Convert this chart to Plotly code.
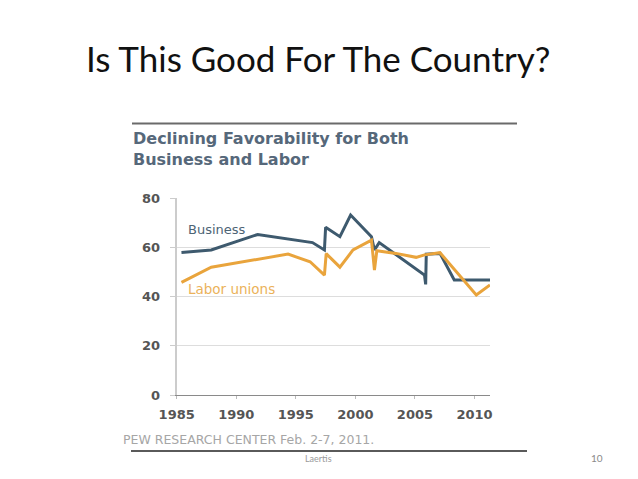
"""Slide: Is This Good For The Country? (Pew favorability chart)"""
import plotly.graph_objects as go

W, H = 638, 479
PAGE_PAD = 8  # the page body adds this much around the figure

# Data
business_years = [1985.4, 1987.9, 1991.8, 1996.4, 1997.4, 1997.5, 1998.7, 1999.6,
                  2001.35, 2001.6, 2002.0, 2005.8, 2005.9, 2005.95, 2007.1, 2008.3, 2011.3]
business_values = [58, 59, 65.3, 62, 59, 68.2, 64.4, 73.2,
                   64.4, 59, 62, 48.8, 45, 57.3, 57.6, 46.8, 46.8]

labor_years = [1985.4, 1987.9, 1994.35, 1996.2, 1997.4, 1997.55, 1998.7, 1999.8,
               2001.35, 2001.6, 2001.8, 2003.4, 2005.1, 2005.8, 2007.1, 2010.15, 2011.3]
labor_values = [45.8, 52, 57.3, 54.2, 48.8, 57.5, 52, 59,
                63, 50.8, 58.7, 57.6, 56, 57, 57.9, 40.7, 44.8]

x_ticks = [1985, 1990, 1995, 2000, 2005, 2010]
y_ticks = [0, 20, 40, 60, 80]

BUSINESS_COLOR = "#3e5a6e"
LABOR_COLOR = "#e9a43c"


def px_x(p):
    return (p - PAGE_PAD) / W


def px_y(p):
    return 1 - (p - PAGE_PAD) / H


fig = go.Figure()

fig.add_trace(go.Scatter(x=business_years, y=business_values, mode="lines",
                         line=dict(color=BUSINESS_COLOR, width=3), name="Business"))
fig.add_trace(go.Scatter(x=labor_years, y=labor_values, mode="lines",
                         line=dict(color=LABOR_COLOR, width=3), name="Labor unions"))

tick_font = dict(family="DejaVu Sans", size=13, color="#555555", weight="bold")

fig.update_xaxes(
    domain=[px_x(176.7), px_x(490)],
    range=[1985, 2011.3],
    tickvals=x_ticks,
    showgrid=False,
    zeroline=False,
    automargin=False,
    showline=True, linecolor="#8a8a8a", linewidth=1,
    ticks="outside", ticklen=3, tickcolor="#bbbbbb",
    ticklabelstandoff=4,
    tickfont=tick_font,
)
fig.update_yaxes(
    domain=[px_y(395.1), px_y(198.3)],
    range=[0, 80],
    tickvals=y_ticks,
    showgrid=True, gridcolor="#dddddd", gridwidth=1,
    zeroline=False,
    automargin=False,
    showline=True, linecolor="#cccccc", linewidth=2,
    ticks="outside", ticklen=5, tickcolor="#cccccc",
    ticklabelstandoff=7,
    tickfont=tick_font,
)

# in-chart series labels
fig.add_annotation(x=1985.8, y=67.3, text="Business", showarrow=False, xanchor="left",
                   font=dict(family="DejaVu Sans", size=13, color="#4d6475"))
fig.add_annotation(x=1985.8, y=43.1, text="Labor unions", showarrow=False, xanchor="left",
                   font=dict(family="DejaVu Sans", size=13.5, color="#ebb25a"))

# slide title
fig.add_annotation(xref="paper", yref="paper", x=px_x(318), y=px_y(58),
                   text="Is This Good For The Country?", showarrow=False,
                   xanchor="center", yanchor="middle",
                   font=dict(family="Lato", size=35, color="#111111"))

# chart header
fig.add_annotation(xref="paper", yref="paper", x=px_x(131), y=px_y(127),
                   text="Declining Favorability for Both<br>Business and Labor",
                   showarrow=False, xanchor="left", yanchor="top", align="left",
                   font=dict(family="DejaVu Sans", size=16, color="#56687a", weight="bold"))

# source note
fig.add_annotation(xref="paper", yref="paper", x=px_x(121), y=px_y(439),
                   text="PEW RESEARCH CENTER Feb. 2-7, 2011.", showarrow=False,
                   xanchor="left", yanchor="middle",
                   font=dict(family="DejaVu Sans", size=12.5, color="#a6a6a6"))

# slide footer
fig.add_annotation(xref="paper", yref="paper", x=px_x(318), y=px_y(458),
                   text="Laertis", showarrow=False, xanchor="center", yanchor="middle",
                   font=dict(family="Lato", size=9, color="#9a9a9a"))
fig.add_annotation(xref="paper", yref="paper", x=px_x(597), y=px_y(458),
                   text="10", showarrow=False, xanchor="center", yanchor="middle",
                   font=dict(family="Lato", size=10, color="#8a8a8a"))

# rules above and below the chart image
fig.add_shape(type="line", xref="paper", yref="paper",
              x0=px_x(132), x1=px_x(517), y0=px_y(123.5), y1=px_y(123.5),
              line=dict(color="#6a6a6a", width=2))
fig.add_shape(type="line", xref="paper", yref="paper",
              x0=px_x(131), x1=px_x(527), y0=px_y(451), y1=px_y(451),
              line=dict(color="#5a5a5a", width=2))

fig.update_layout(
    width=W, height=H,
    margin=dict(l=0, r=0, t=0, b=0),
    paper_bgcolor="white",
    plot_bgcolor="white",
    showlegend=False,
)

fig.write_html("out.html")
